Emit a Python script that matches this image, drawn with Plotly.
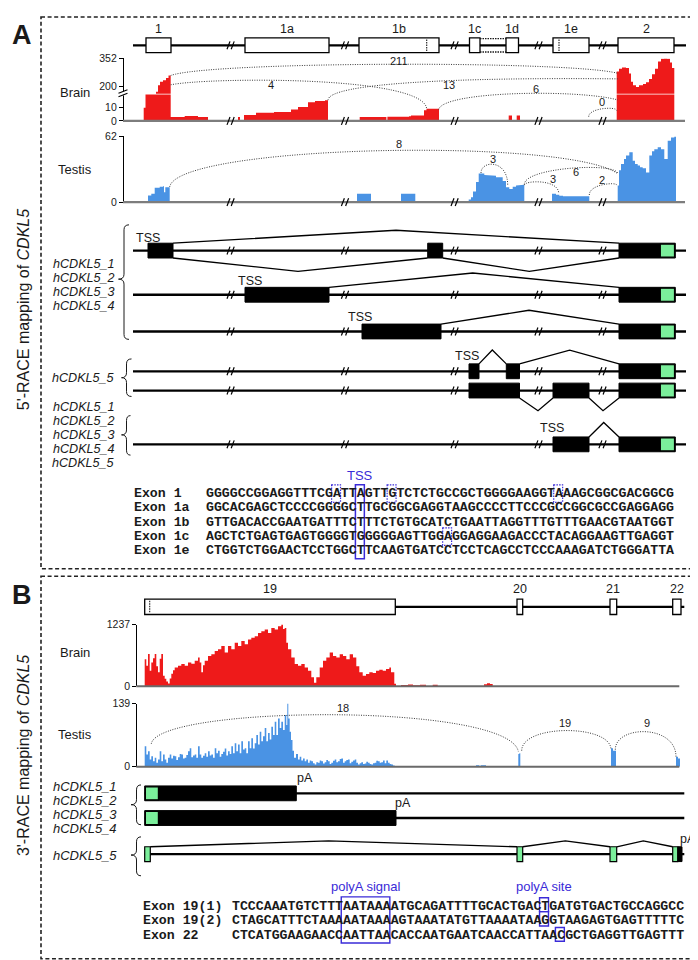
import plotly.graph_objects as go

# ======================= DATA =======================
# ---- Panel A : 5'-RACE, exon model (schematic positions) ----
A_EXON_NAMES = ["1", "1a", "1b", "1c", "1d", "1e", "2"]
A_EXON_START = [138.0, 237.0, 351.0, 461.5, 498.0, 545.0, 610.0]
A_EXON_END = [163.0, 321.0, 431.0, 472.0, 510.5, 581.0, 666.0]
A_INNER_MARKS = [418.7, 551.0]
A_1C1D_LINK = [472.0, 498.0]
A_BREAKS = [222.6, 337.0, 446.6, 530.5, 594.5]

# Brain coverage (bin edges ; value of bin starting at edge, last = 0)
BRAIN_A_EDGES = [135.7, 137.5, 139, 148, 150, 152, 155, 158, 160.5, 162.7, 176.7, 190, 200,
                 230, 232, 236, 248, 266, 283, 290, 300, 307, 317, 320,
                 351.7, 378.4, 379.4, 401, 403, 416, 418.5, 431, 500.7, 504, 508.7, 512,
                 608.7, 611, 614, 618, 621, 623, 625, 628, 631, 635, 638, 641, 644, 647,
                 650, 653, 656, 659, 662, 664, 666.3]
BRAIN_A_VALUES = [10, 30, 150, 170, 205, 225, 232, 245, 259, 3, 3.8, 3, 0,
                  3, 0, 4.5, 6.2, 6.7, 8.7, 10.5, 14.2, 15, 15.7, 0,
                  3, 0, 3.2, 3.6, 4.2, 8, 9.2, 0, 4.2, 0, 4.2, 0,
                  280, 295, 302, 300, 270, 225, 205, 196, 205, 212, 222, 240, 265, 295,
                  335, 350, 352, 350, 330, 300, 0]
BRAIN_A_TICKS_LOW = [0, 10]
BRAIN_A_TICKS_HIGH = [200, 352]

TESTIS_A_EDGES = [140, 143.3, 146.7, 151.7, 155, 156, 157.3, 161.7, 349, 363, 393, 407.3,
                  460.7, 463, 465, 468, 470.7, 473, 476.3, 481.3, 488, 494.7, 498, 501.3,
                  504.7, 508, 511.3, 516.3, 544, 548, 551.3, 555, 581.3,
                  609.7, 611, 613, 616, 618, 621.3, 624.7, 627, 629.7, 632, 634.7, 638,
                  641.3, 644, 646.3, 649.7, 653, 656.3, 659.7, 663, 666.3, 668]
TESTIS_A_VALUES = [6.3, 7.8, 13.5, 14.4, 15, 9.4, 14, 0, 7.8, 0, 7.8, 0,
                   2.5, 4.7, 10, 19, 27, 27, 25.7, 25, 23.5, 20, 14, 12.5,
                   14.5, 15.7, 16.3, 0, 7.8, 7, 6, 5.6, 0,
                   15.7, 30, 36, 40.8, 44, 47, 39, 36, 34.5, 33, 32, 28,
                   44, 48, 50, 51.7, 50, 40.8, 58, 61, 62, 0]
TESTIS_A_TICKS = [0, 62]

SJ_A_BRAIN = ["211", "4", "13", "6", "0"]
SJ_A_TESTIS = ["8", "3", "3", "6", "2"]

# transcripts (exon blocks per row; last block of each row is exon 2 with CDS start)
TX_A_ROWS = [
    [(140, 165), (419.7, 434.7), (611, 667.3)],
    [(237, 321), (611, 667.3)],
    [(354, 433), (611, 667.3)],
    [(461, 471), (498.3, 511.5), (611, 667.3)],
    [(461, 511.5), (545, 581), (611, 667.3)],
    [(545, 581), (611, 667.3)],
]
A_CDS_START = 652.3
TX_A_GROUP1 = ["hCDKL5_1", "hCDKL5_2", "hCDKL5_3", "hCDKL5_4"]
TX_A_GROUP2 = ["hCDKL5_5"]
TX_A_GROUP3 = ["hCDKL5_1", "hCDKL5_2", "hCDKL5_3", "hCDKL5_4", "hCDKL5_5"]

SEQ_A_LABELS = ["Exon 1", "Exon 1a", "Exon 1b", "Exon 1c", "Exon 1e"]
SEQ_A = [
    "GGGGCCGGAGGTTTCGATTAGTTGTCTCTGCCGCTGGGGAAGGTAAAGCGGCGACGGCG",
    "GGCACGAGCTCCCCGGGGCTTGCGGCGAGGTAAGCCCCTTCCCGCCGGCGCCGAGGAGG",
    "GTTGACACCGAATGATTTCTTTCTGTGCATCTGAATTAGGTTTGTTTGAACGTAATGGT",
    "AGCTCTGAGTGAGTGGGGTGGGGGAGTTGGAGGAGGAAGACCCTACAGGAAGTTGAGGT",
    "CTGGTCTGGAACTCCTGGCTTCAAGTGATCCTCCTCAGCCTCCCAAAGATCTGGGATTA",
]
SEQ_A_TSS_COL = 19
SEQ_A_ALT_TSS = [(0, 16), (0, 23), (0, 44), (3, 30)]

# ---- Panel B : 3'-RACE ----
B_EXON_NAMES = ["19", "20", "21", "22"]
B_EXON_START = [136.7, 509.0, 602.0, 664.7]
B_EXON_END = [387.3, 514.7, 608.7, 673.0]

BRAIN_B_EDGES = [136.7, 138.3, 140, 141.7, 143.3, 145, 146.7, 148.3, 150, 151.7, 153.3, 155,
                 156.7, 158.3, 160, 161.7, 163.3, 165, 166.7, 170, 173.3, 176.7, 180, 183.3,
                 186.7, 190, 191.7, 193.3, 195, 196.7, 200, 203.3, 206.7, 210, 213.3, 216.7,
                 220, 223.3, 226.7, 230, 233.3, 236.7, 240, 243.3, 246.7, 250, 253.3, 256.7,
                 260, 263.3, 266.7, 270, 273.3, 275, 276.7, 278.3, 280, 283.3, 286.7, 290,
                 293.3, 296.7, 300, 303.3, 306, 308.3, 311.7, 315, 318.3, 321.7, 325, 328.3,
                 331.7, 335, 338.3, 341.7, 345, 348.3, 351.3, 354.7, 358, 361.3, 364.7, 368,
                 371.3, 374.7, 378, 381.3, 383, 386.3, 388, 393, 400, 405, 412, 418,
                 424.7, 429.7, 476, 479, 482, 484.7]
BRAIN_B_VALUES = [543, 410, 648, 311, 476, 560, 648, 400, 278, 549, 648, 212,
                  150, 93, 53, 152, 251, 320, 377, 410, 444, 410, 476, 450,
                  510, 575, 476, 278, 420, 510, 608, 642, 708, 741, 807, 674,
                  807, 741, 872, 807, 906, 840, 939, 972, 1005, 1070, 1104, 1137,
                  1070, 1170, 1137, 1203, 1237, 1150, 1170, 872, 741, 575, 444, 410,
                  444, 377, 311, 178, 67, 178, 377, 510, 575, 674, 608, 575,
                  642, 608, 543, 642, 575, 400, 278, 212, 245, 278, 265, 311,
                  331, 311, 344, 377, 278, 48, 0, 25, 35, 20, 30, 0,
                  28, 0, 40, 60, 45, 0]
BRAIN_B_TICKS = [0, 1237]

TESTIS_B_EDGES = [136.7, 138.3, 140, 141.7, 143.3, 145, 146.7, 148.3, 150, 151.7, 153.3, 155,
                  156.7, 158.3, 160, 161.7, 163.3, 165, 166.7, 168.3, 170, 171.7, 173.3, 175,
                  176.7, 178.3, 180, 181.7, 183.3, 185, 186.7, 188.3, 190, 191.7, 193.3, 195,
                  196.7, 198.3, 200, 201.7, 203.3, 205, 206.7, 208.3, 210, 211.7, 213.3, 215,
                  216.7, 218.3, 220, 221.7, 223.3, 225, 226.7, 228.3, 230, 231.7, 233.3, 235,
                  236.7, 238.3, 240, 241.7, 243.3, 245, 246.7, 248.3, 250, 251.7, 253.3, 255,
                  256.7, 258.3, 260, 261.7, 263.3, 265, 266.7, 268.3, 270, 271.7, 273.3, 275,
                  276.7, 278.3, 279.3, 280.3, 281.7, 283, 284.5, 286, 288, 290, 291.7, 293.3,
                  295, 296.7, 298.3, 300, 301.7, 303.3, 305, 306.7, 308.3, 310, 311.7, 313.3,
                  315, 316.7, 318.3, 320, 321.7, 323.3, 325, 326.7, 328.3, 330, 331.7, 333.3,
                  335, 336.7, 338.3, 340, 341.7, 343.3, 345, 346.7, 348.3, 350, 351.7, 353.3,
                  355, 356.7, 358.3, 360, 361.7, 363.3, 365, 366.7, 368.3, 370, 371.7, 373.3,
                  375, 376.7, 378.3, 380, 381.7, 383.3, 385, 386.7, 388.3, 468, 471, 473,
                  478, 510.3, 511.3, 512.3, 603, 605, 608, 668, 670, 672]
TESTIS_B_VALUES = [45, 27, 34, 16, 23, 12, 20, 9, 16, 34, 12, 27,
                   16, 9, 20, 27, 18, 24, 23, 15, 21, 28, 27, 18,
                   20, 26, 34, 41, 21, 25, 27, 20, 45, 27, 20, 24,
                   30, 22, 34, 25, 27, 20, 41, 30, 35, 22, 28, 33,
                   40, 25, 34, 28, 45, 30, 52, 34, 49, 30, 56, 38,
                   41, 30, 56, 41, 63, 40, 52, 70, 49, 77, 56, 67,
                   85, 56, 74, 60, 88, 70, 99, 70, 106, 85, 99, 81,
                   114, 92, 139, 106, 77, 59, 35, 20, 28, 16, 22, 14,
                   18, 12, 16, 9, 14, 12, 8, 5, 10, 9, 14, 12,
                   7, 10, 15, 12, 6, 9, 13, 16, 10, 12, 17, 18,
                   9, 12, 15, 16, 8, 11, 14, 16, 9, 5, 8, 10,
                   6, 7, 11, 9, 6, 5, 8, 9, 13, 12, 9, 10,
                   14, 8, 14, 9, 6, 5, 3, 1.5, 0, 3.6, 2, 3.6,
                   0, 28, 30, 0, 41, 35, 0, 22, 18, 0]
TESTIS_B_TICKS = [0, 139]
SJ_B_TESTIS = ["18", "19", "9"]

TX_B_GROUP1 = ["hCDKL5_1", "hCDKL5_2", "hCDKL5_3", "hCDKL5_4"]
TX_B_GROUP2 = ["hCDKL5_5"]
TX_B_STOP_END = [288.3, 388.0]          # end of 3'UTR for isoforms 1/2 and 3/4
TX_B5_EXONS = [(136.7, 142.3), (509.0, 514.7), (602.0, 608.7), (664.7, 669.7)]
TX_B5_UTR = (669.7, 674.0)

SEQ_B_LABELS = ["Exon 19(1)", "Exon 19(2)", "Exon 22"]
SEQ_B = [
    "TCCCAAATGTCTTTAATAAAATGCAGATTTTGCACTGACTGATGTGACTGCCAGGCC",
    "CTAGCATTTCTAAAAATAAAAGTAAATATGTTAAAATAAGGTAAGAGTGAGTTTTTC",
    "CTCATGGAAGAACCAATTAACACCAATGAATCAACCATTAACGCTGAGGTTGAGTTT",
]
SEQ_B_SIGNAL_COLS = (14, 19)
SEQ_B_SITE = [(0, 39), (1, 39), (2, 41)]

for e, v in [(BRAIN_A_EDGES, BRAIN_A_VALUES), (TESTIS_A_EDGES, TESTIS_A_VALUES),
             (BRAIN_B_EDGES, BRAIN_B_VALUES), (TESTIS_B_EDGES, TESTIS_B_VALUES)]:
    assert len(e) == len(v), (len(e), len(v))

# ======================= STYLE / LAYOUT =======================
W, H = 698, 960
SANS = "Liberation Sans, Arial, sans-serif"
MONO = "Liberation Mono, Courier New, monospace"
INK = "#1a1a1a"
RED = "#EE1A1A"
BLUE = "#4A93E4"
GREEN = "#7BEF9B"
PURPLE = "#3A2BD8"
GREY = "#7D7D7D"
ARC = "#3a3a3a"

shapes, annotations = [], []


def sline(x0, y0, x1, y1, w=1.2, color="black", dash=None):
    ln = dict(color=color, width=w)
    if dash:
        ln["dash"] = dash
    shapes.append(dict(type="line", xref="x", yref="y", x0=x0, y0=y0, x1=x1, y1=y1,
                       line=ln, layer="above"))


def srect(x0, y0, x1, y1, fill="rgba(0,0,0,0)", w=1.2, color="black", dash=None):
    ln = dict(color=color, width=w)
    if dash:
        ln["dash"] = dash
    shapes.append(dict(type="rect", xref="x", yref="y", x0=x0, y0=y0, x1=x1, y1=y1,
                       fillcolor=fill, line=ln, layer="above"))


def spath(p, w=1.2, color="black", dash=None):
    ln = dict(color=color, width=w)
    if dash:
        ln["dash"] = dash
    shapes.append(dict(type="path", xref="x", yref="y", path=p, line=ln, layer="above"))


def txt(x, y, t, size=12.5, color=INK, family=SANS, xanchor="center", angle=0):
    annotations.append(dict(x=x, y=y, xref="x", yref="y", text=t, showarrow=False,
                            font=dict(size=size, color=color, family=family),
                            xanchor=xanchor, yanchor="middle", borderpad=0,
                            textangle=angle))


def breaks(xs, y):
    for cx in xs:
        sline(cx - 3.6, y + 4, cx - 0.6, y - 4, 1.2)
        sline(cx + 0.6, y + 4, cx + 3.6, y - 4, 1.2)


def arc(p0, p1, p2, p3):
    spath("M %s,%s C %s,%s %s,%s %s,%s" % (p0 + p1 + p2 + p3), 1.0, ARC, "1px,1.4px")


def polyline(pts, w=1.3):
    spath("M " + " L ".join("%s,%s" % p for p in pts), w)


def brace(x_tip, x_mid, x_end, y_top, y_tip, y_bot, r=5):
    p = ("M {e},{t} Q {m},{t} {m},{t2} L {m},{p1} Q {m},{p} {x},{p} "
         "Q {m},{p} {m},{p2} L {m},{b2} Q {m},{b} {e},{b}").format(
        e=x_end, t=y_top, m=x_mid, t2=y_top + r, p1=y_tip - r, p=y_tip, x=x_tip,
        p2=y_tip + r, b2=y_bot - r, b=y_bot)
    spath(p, 1.0, INK)


def step_polys(edges, vals):
    xs, ys = [], []
    i, n = 0, len(vals)
    while i < n - 1:
        if vals[i] <= 0:
            i += 1
            continue
        xs.append(edges[i]); ys.append(0)
        while i < n - 1 and vals[i] > 0:
            xs += [edges[i], edges[i + 1]]
            ys += [vals[i], vals[i]]
            i += 1
        xs.append(edges[i]); ys.append(0)
        xs.append(None); ys.append(None)
    return xs, ys


def dom(top_px, bot_px):
    return [1 - bot_px / H, 1 - top_px / H]


# ---------- panel frames and letters ----------
srect(33, 3, 693.5, 561.7, w=1.6, color="#222", dash="4px,2.6px")
srect(33, 569.3, 694, 956.7, w=1.6, color="#222", dash="4px,2.6px")
txt(14, 21.5, "<b>A</b>", size=27)
txt(14, 588, "<b>B</b>", size=27)
txt(15, 300, "5'-RACE mapping of <i>CDKL5</i>", size=16, angle=-90)
txt(15, 751.5, "3'-RACE mapping of <i>CDKL5</i>", size=16, angle=-90)

# ---------- A: exon model ----------
A_MODEL_Y, HH = 31.7, 7.5
sline(125, A_MODEL_Y, 678, A_MODEL_Y, 2.3)
breaks(A_BREAKS, A_MODEL_Y)
for nm, s, e in zip(A_EXON_NAMES, A_EXON_START, A_EXON_END):
    srect(s, A_MODEL_Y - HH, e, A_MODEL_Y + HH, fill="white", w=1.3)
    txt((s + e) / 2, 15.5, nm, size=12.5)
sline(A_1C1D_LINK[0], A_MODEL_Y - 6.8, A_1C1D_LINK[1], A_MODEL_Y - 6.8, 1.3, INK, "1.5px,1px")
sline(A_1C1D_LINK[0], A_MODEL_Y + 6.8, A_1C1D_LINK[1], A_MODEL_Y + 6.8, 1.3, INK, "1.5px,1px")
for mx in A_INNER_MARKS:
    sline(mx, A_MODEL_Y - 6, mx, A_MODEL_Y + 6, 1.1, INK, "1.5px,1px")

# ---------- A: coverage ----------
A_AX_X = 115.0
traces = []
bx, by = step_polys(BRAIN_A_EDGES, BRAIN_A_VALUES)
for ya in ("y2", "y3"):
    traces.append(go.Scatter(x=bx, y=by, xaxis="x", yaxis=ya, mode="lines", fill="toself",
                             fillcolor=RED, line=dict(width=0, color=RED), hoverinfo="skip"))
tx_, ty_ = step_polys(TESTIS_A_EDGES, TESTIS_A_VALUES)
traces.append(go.Scatter(x=tx_, y=ty_, xaxis="x", yaxis="y4", mode="lines", fill="toself",
                         fillcolor=BLUE, line=dict(width=0, color=BLUE), hoverinfo="skip"))
sline(A_AX_X, 108.3, 677, 108.3, 2.3, GREY)
sline(A_AX_X, 190.5, 677, 190.5, 2.3, GREY)
breaks(A_BREAKS, 108.3)
breaks(A_BREAKS, 190.5)
# axis break marks on the brain y-axis
srect(110.5, 78.2, 119.5, 82.5, fill="white", w=0)
sline(110.5, 80.2, 119.5, 76.6, 1.1)
sline(110.5, 83.9, 119.5, 80.3, 1.1)
txt(67, 79, "Brain", size=13)
txt(67, 157, "Testis", size=13)

# sashimi arcs, brain A
arc((162.7, 62.3), (200, 48), (560, 47), (609.7, 60.0))
arc((162.7, 71.7), (200, 64), (418.7, 62), (418.7, 96.7))
arc((320, 87.3), (320, 70), (450, 64), (609.7, 65.7))
arc((430.7, 96.7), (435, 78), (570, 76), (609.7, 87))
arc((580.7, 104), (580.7, 95), (608.7, 93.5), (608.7, 97.7))
for (x, y), t in zip([(390.7, 47.5), (263, 72.3), (440.7, 72), (528, 76), (593.7, 89.5)], SJ_A_BRAIN):
    txt(x, y, t, size=11)
# sashimi arcs, testis A
arc((161.7, 175), (170, 132), (560, 125), (609.7, 161.7))
arc((473, 161), (473, 148), (499.7, 147), (499.7, 173.3))
arc((516.3, 173.3), (516.3, 168.5), (550.7, 167), (550.7, 181.7))
arc((516.3, 172.7), (516.3, 155), (609.7, 150), (609.7, 161.7))
arc((581.3, 183.3), (581.3, 172), (608.7, 170), (608.7, 173.3))
for (x, y), t in zip([(391, 132), (485.3, 146.5), (544.7, 167.5), (568, 160.5), (594, 168)], SJ_A_TESTIS):
    txt(x, y, t, size=11)

# ---------- A: transcripts ----------
ROW_Y = [239.6, 284.3, 321.5, 361.8, 381.3, 435.8]
for ry, blocks in zip(ROW_Y, TX_A_ROWS):
    sline(125, ry, 678, ry, 2.3)
    breaks(A_BREAKS, ry)
for ry, blocks in zip(ROW_Y, TX_A_ROWS):
    for s, e in blocks:
        srect(s, ry - HH, e, ry + HH, fill="black", w=1.0)
    srect(A_CDS_START, ry - 6.6, blocks[-1][1] - 0.8, ry + 6.6, fill=GREEN, w=1.2)

polyline([(165, 232.1), (388, 219), (611, 232.1)])
polyline([(165, 247.1), (290, 260.7), (419.7, 247.1)])
polyline([(434.7, 247.1), (521.3, 260.7), (611, 247.1)])
polyline([(321, 276.8), (464.7, 262.3), (611, 276.8)])
polyline([(433, 314), (521, 300), (611, 314)])
polyline([(471, 354.3), (484.3, 340.3), (498.3, 354.3)])
polyline([(511.5, 354.3), (561.7, 340.3), (611, 354.3)])
polyline([(511.5, 388.8), (530, 401.7), (545, 388.8)])
polyline([(581, 388.8), (595, 401.7), (611, 388.8)])
polyline([(581, 428.3), (595.7, 413.6), (611, 428.3)])
for x, y in [(140, 226.5), (241.7, 270), (351.7, 306.5), (459.3, 346.7), (544, 419.5)]:
    txt(x, y, "TSS", size=12.5)

LAB_A_X = 107.5
LAB_FS = 12.6
for i, nm in enumerate(TX_A_GROUP1):
    txt(LAB_A_X, 253.3 + i * 14.1, "<i>%s</i>" % nm, size=LAB_FS, xanchor="right")
brace(110.5, 116, 121, 213.5, 268.5, 329.5)
for nm in TX_A_GROUP2:
    txt(LAB_A_X, 368.3, "<i>%s</i>" % nm, size=LAB_FS, xanchor="right")
brace(113.5, 118.5, 123.5, 349.3, 368.3, 387.3)
for i, nm in enumerate(TX_A_GROUP3):
    txt(LAB_A_X, 397.7 + i * 14.3, "<i>%s</i>" % nm, size=LAB_FS, xanchor="right")
brace(113.5, 118.5, 122.5, 406.7, 426.2, 446.7)

# ---------- A: sequences ----------
FS = 13.22
CW = 0.6 * FS
SEQ_A_X, LAB_SEQ_A_X = 197.2, 124.7
SEQ_A_Y = [485.7 + i * 14.5 for i in range(len(SEQ_A))]
for lab, seq, y in zip(SEQ_A_LABELS, SEQ_A, SEQ_A_Y):
    txt(LAB_SEQ_A_X, y, "<b>%s</b>" % lab, size=FS, family=MONO, xanchor="left")
    txt(SEQ_A_X, y, "<b>%s</b>" % seq, size=FS, family=MONO, xanchor="left")
c0 = SEQ_A_X + SEQ_A_TSS_COL * CW
srect(c0 - 0.5, SEQ_A_Y[0] - 9, c0 + CW + 0.5, SEQ_A_Y[-1] + 8, w=1.5, color=PURPLE)
txt(c0 + CW / 2, SEQ_A_Y[0] - 18.5, "TSS", size=13, color=PURPLE)
for r, c in SEQ_A_ALT_TSS:
    cx = SEQ_A_X + c * CW
    srect(cx - 0.5, SEQ_A_Y[r] - 8.8, cx + CW + 0.5, SEQ_A_Y[r] + 8.8, w=1.2,
          color=PURPLE, dash="1.5px,1.2px")

# ---------- B: exon model ----------
B_MODEL_Y = 600.3
sline(136.7, B_MODEL_Y, 676.3, B_MODEL_Y, 2.3)
for nm, s, e in zip(B_EXON_NAMES, B_EXON_START, B_EXON_END):
    srect(s, B_MODEL_Y - 7.8, e, B_MODEL_Y + 7.8, fill="white", w=1.3)
    txt((s + e) / 2, 582, nm, size=12.5)
sline(141.7, B_MODEL_Y - 6, 141.7, B_MODEL_Y + 6, 1.1, INK, "1.5px,1px")

# ---------- B: coverage ----------
B_AX_X = 128.3
bx, by = step_polys(BRAIN_B_EDGES, BRAIN_B_VALUES)
traces.append(go.Scatter(x=bx, y=by, xaxis="x", yaxis="y5", mode="lines", fill="toself",
                         fillcolor=RED, line=dict(width=0, color=RED), hoverinfo="skip"))
tx_, ty_ = step_polys(TESTIS_B_EDGES, TESTIS_B_VALUES)
traces.append(go.Scatter(x=tx_, y=ty_, xaxis="x", yaxis="y6", mode="lines", fill="toself",
                         fillcolor=BLUE, line=dict(width=0, color=BLUE), hoverinfo="skip"))
sline(B_AX_X, 680.7, 671.3, 680.7, 2.0, "#6a6a6a")
sline(B_AX_X, 762.3, 671.3, 762.3, 2.0, "#6a6a6a")
txt(66.7, 646.7, "Brain", size=13)
txt(66.7, 729.3, "Testis", size=13)

arc((143.3, 739), (150, 700), (500, 697), (510.3, 746.7))
arc((513.7, 746), (513.7, 719), (603, 719), (603, 745))
arc((607.3, 745), (607.3, 720), (668, 719), (668, 752.3))
for (x, y), t in zip([(335, 703), (557.3, 718), (638.7, 718)], SJ_B_TESTIS):
    txt(x, y, t, size=11)

# ---------- B: transcripts ----------
B_ROW_Y = [789.2, 814.2, 850.8]
for ry, end in zip(B_ROW_Y[:2], TX_B_STOP_END):
    sline(136.7, ry, 676.3, ry, 2.3)
    srect(136.7, ry - HH, end, ry + HH, fill="black", w=1.0)
    srect(137.4, ry - 6.6, 150.4, ry + 6.6, fill=GREEN, w=1.2)
txt(296.7, 773.3, "pA", size=12.5)
txt(394.7, 799.3, "pA", size=12.5)
ry = B_ROW_Y[2]
sline(136.7, ry, 676.3, ry, 2.3)
polyline([(142.3, 843.3), (320.6, 837.3), (509, 843.3)])
polyline([(514.7, 843.3), (557.3, 837.3), (602, 843.3)])
polyline([(608.7, 843.3), (635.3, 837.3), (664.7, 843.3)])
srect(TX_B5_UTR[0], ry - HH, TX_B5_UTR[1], ry + HH, fill="black", w=1.0)
for s, e in TX_B5_EXONS:
    srect(s, ry - HH, e, ry + HH, fill=GREEN, w=1.2)
txt(680, 835, "pA", size=12.5)

LAB_B_X = 110
for i, nm in enumerate(TX_B_GROUP1):
    txt(LAB_B_X, 782.3 + i * 14.3, "<i>%s</i>" % nm, size=13, xanchor="right")
brace(123, 128.5, 133, 780.7, 800.7, 821)
for nm in TX_B_GROUP2:
    txt(LAB_B_X, 851.7, "<i>%s</i>" % nm, size=13, xanchor="right")
brace(123, 128.5, 133, 833.3, 851.7, 872.7)

# ---------- B: sequences ----------
SEQ_B_X, LAB_SEQ_B_X = 222.7, 134.3
SEQ_B_Y = [903.5, 918.2, 932.8]
for lab, seq, y in zip(SEQ_B_LABELS, SEQ_B, SEQ_B_Y):
    txt(LAB_SEQ_B_X, y, "<b>%s</b>" % lab, size=FS, family=MONO, xanchor="left")
    txt(SEQ_B_X, y, "<b>%s</b>" % seq, size=FS, family=MONO, xanchor="left")
s0 = SEQ_B_X + SEQ_B_SIGNAL_COLS[0] * CW
s1 = SEQ_B_X + (SEQ_B_SIGNAL_COLS[1] + 1) * CW
srect(s0 - 0.5, 894, s1 + 0.5, 940.7, w=1.4, color=PURPLE)
txt((s0 + s1) / 2, 884, "polyA signal", size=13, color=PURPLE)
site_y = [(895, 909), (909, 923.5), (925, 939)]
for (r, c), (y0, y1) in zip(SEQ_B_SITE, site_y):
    cx = SEQ_B_X + c * CW
    srect(cx - 0.5, y0, cx + CW + 0.5, y1, w=1.4, color=PURPLE)
txt(SEQ_B_X + 39.5 * CW, 884, "polyA site", size=13, color=PURPLE)

# dummy trace so the overlay axes exist
traces.insert(0, go.Scatter(x=[0], y=[0], xaxis="x", yaxis="y", mode="markers",
                            marker=dict(opacity=0), hoverinfo="skip"))

fig = go.Figure(data=traces)


def yax(top, bot, rng, ticks, pos):
    return dict(domain=dom(top, bot), range=rng, anchor="free", position=pos / W,
                tickvals=ticks, ticktext=[str(t) for t in ticks], showline=True,
                linecolor="black", linewidth=1.2, ticks="outside", ticklen=4,
                tickwidth=1.2, tickcolor="black", showgrid=False, zeroline=False,
                tickfont=dict(family=SANS, size=10.5, color=INK), fixedrange=True)


fig.update_layout(
    width=W, height=H, margin=dict(l=0, r=0, t=0, b=0),
    paper_bgcolor="white", plot_bgcolor="rgba(0,0,0,0)", showlegend=False,
    xaxis=dict(range=[0, W], domain=[0, 1], visible=False, fixedrange=True),
    yaxis=dict(range=[H, 0], domain=[0, 1], visible=False, fixedrange=True),
    yaxis2=yax(81.5, 108.3, [0, 20], BRAIN_A_TICKS_LOW, A_AX_X),
    yaxis3=yax(45, 80.7, [159, 352], BRAIN_A_TICKS_HIGH, A_AX_X),
    yaxis4=yax(124, 190.5, [0, 62], TESTIS_A_TICKS, A_AX_X),
    yaxis5=yax(618.3, 680.7, [0, 1237], BRAIN_B_TICKS, B_AX_X),
    yaxis6=yax(698.3, 762.3, [0, 139], TESTIS_B_TICKS, B_AX_X),
    shapes=shapes, annotations=annotations,
)
fig.write_html("out.html")
